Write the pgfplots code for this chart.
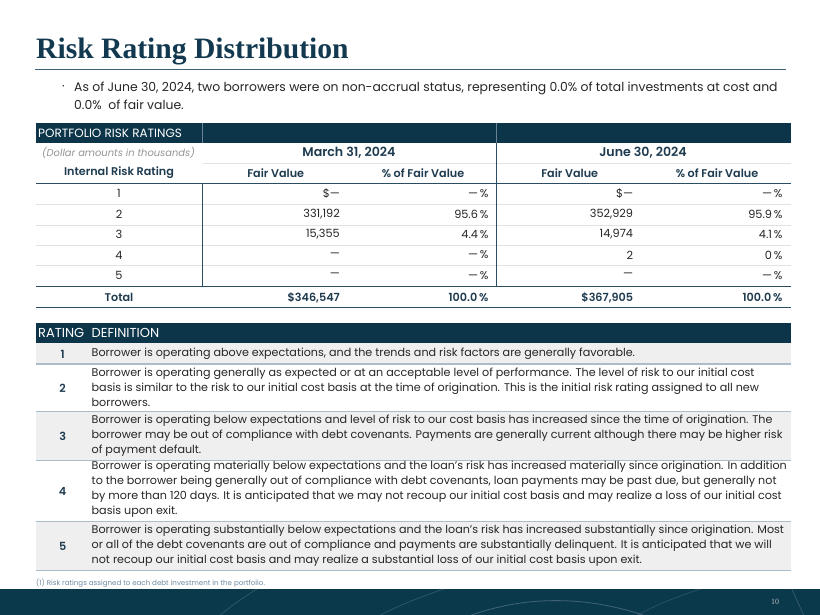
\documentclass[border=0pt]{standalone}
\usepackage{fontspec}
\setmainfont{Poppins}
\newfontfamily\titlefont{Liberation Serif}
\newfontfamily\semib{Poppins SemiBold}
\usepackage{pgfplots}
\usepackage{pgfplotstable}
\pgfplotsset{compat=1.18}
\definecolor{navy}{HTML}{0C3549}
\definecolor{titlec}{HTML}{12394F}
\definecolor{rulec}{HTML}{3A6078}
\definecolor{linec}{HTML}{2B4D63}
\definecolor{rowgrey}{HTML}{EFEFEF}
\definecolor{sepc}{HTML}{A9BDCB}
\definecolor{lightsep}{HTML}{E2E2E2}
\definecolor{headc}{HTML}{1E3B50}
\definecolor{bodyc}{HTML}{262626}
\definecolor{notec}{HTML}{6F8BA0}

\pgfplotstableread[col sep=semicolon]{
y;rating;mfv;mpct;jfv;jpct
193.3;1;\$—;—\,\%;\$—;—\,\%
214.3;2;331,192;95.6\,\%;352,929;95.9\,\%
234.3;3;15,355;4.4\,\%;14,974;4.1\,\%
255.0;4;—;—\,\%;2;0\,\%
275.7;5;—;—\,\%;—;—\,\%
}\ratings

\pgfplotstableread[col sep=semicolon]{
y;rating;mfv;mpct;jfv;jpct
297.7;Total;\$346,547;100.0\,\%;\$367,905;100.0\,\%
}\totals

\tikzset{deftext/.style={anchor=west, inner sep=0pt, align=left, text=bodyc, font=\fontsize{11.15}{15}\selectfont}}
\tikzset{valstyle/.style={inner sep=0pt, text=bodyc, font=\fontsize{11.3}{13}\selectfont}}
\tikzset{totstyle/.style={inner sep=0pt, text=headc, font=\semib\fontsize{11.2}{13}\selectfont}}
\tikzset{headstyle/.style={inner sep=0pt, text=headc, font=\semib\fontsize{11.2}{13}\selectfont}}

\begin{document}
\begin{tikzpicture}
\begin{axis}[
  width=820pt, height=615pt, scale only axis,
  xmin=0, xmax=820, ymin=0, ymax=615, y dir=reverse,
  hide axis, clip=false,
]
% background
\fill[white] (axis cs:0,0) rectangle (axis cs:820,615);

% title
\node[anchor=base west, inner sep=0pt, text=titlec, font=\titlefont\bfseries\fontsize{29.6}{32}\selectfont] at (axis cs:36,58.3) {Risk Rating Distribution};
\draw[rulec, line width=1.6pt] (axis cs:35,69.5) -- (axis cs:786,69.5);

% intro
\node[anchor=west, inner sep=0pt, text=bodyc, font=\fontsize{12.4}{14}\selectfont] at (axis cs:62,88) {·};
\node[anchor=west, inner sep=0pt, text=bodyc, font=\fontsize{12.4}{14}\selectfont] at (axis cs:74,88) {As of June 30, 2024, two borrowers were on non-accrual status, representing 0.0\% of total investments at cost and};
\node[anchor=west, inner sep=0pt, text=bodyc, font=\fontsize{12.4}{14}\selectfont] at (axis cs:74,105) {0.0\%~ of fair value.};

% ---------- portfolio table ----------
\fill[navy] (axis cs:36,123.3) rectangle (axis cs:791,142.7);
\draw[linec!70!white, line width=0.6pt] (axis cs:202.7,123.3) -- (axis cs:202.7,142.7);
\draw[linec!70!white, line width=0.6pt] (axis cs:496.7,123.3) -- (axis cs:496.7,142.7);
\node[anchor=west, inner sep=0pt, text=white, font=\fontsize{12}{13}\selectfont] at (axis cs:38,133.5) {PORTFOLIO RISK RATINGS};

\node[inner sep=0pt, text=gray!85, font=\itshape\fontsize{9.9}{11}\selectfont] at (axis cs:118.5,152.3) {(Dollar amounts in thousands)};
\node[inner sep=0pt, text=headc, font=\semib\fontsize{12.6}{14}\selectfont] at (axis cs:349,152.3) {March 31, 2024};
\node[inner sep=0pt, text=headc, font=\semib\fontsize{12.6}{14}\selectfont] at (axis cs:643,152.3) {June 30, 2024};
\draw[lightsep, line width=0.8pt] (axis cs:203,163.3) -- (axis cs:791,163.3);

\node[headstyle] at (axis cs:119,172.7) {Internal Risk Rating};
\node[headstyle] at (axis cs:275.7,172.7) {Fair Value};
\node[headstyle] at (axis cs:423,172.7) {\% of Fair Value};
\node[headstyle] at (axis cs:569.7,172.7) {Fair Value};
\node[headstyle] at (axis cs:717,172.7) {\% of Fair Value};

\draw[lightsep, line width=0.8pt] (axis cs:36,204.8) -- (axis cs:791,204.8);
\draw[lightsep, line width=0.8pt] (axis cs:36,225) -- (axis cs:791,225);
\draw[lightsep, line width=0.8pt] (axis cs:36,245.3) -- (axis cs:791,245.3);
\draw[lightsep, line width=0.8pt] (axis cs:36,265.7) -- (axis cs:791,265.7);
\draw[linec, line width=1.2pt] (axis cs:36,183.3) -- (axis cs:791,183.3);
\draw[linec, line width=1.2pt] (axis cs:36,286.7) -- (axis cs:791,286.7);
\draw[linec, line width=1.0pt] (axis cs:36,307.7) -- (axis cs:791,307.7);
\draw[linec, line width=1.0pt] (axis cs:202.7,183.3) -- (axis cs:202.7,286.7);
\draw[linec, line width=1.0pt] (axis cs:496.7,142.7) -- (axis cs:496.7,286.7);

% table values (from data tables)
\addplot[draw=none, mark=none, nodes near coords, point meta=explicit symbolic,
  every node near coord/.append style={valstyle, anchor=center}]
  table[x expr=119, y=y, meta=rating] {\ratings};
\addplot[draw=none, mark=none, nodes near coords, point meta=explicit symbolic,
  every node near coord/.append style={valstyle, anchor=east}]
  table[x expr=340, y=y, meta=mfv] {\ratings};
\addplot[draw=none, mark=none, nodes near coords, point meta=explicit symbolic,
  every node near coord/.append style={valstyle, anchor=east}]
  table[x expr=488.7, y=y, meta=mpct] {\ratings};
\addplot[draw=none, mark=none, nodes near coords, point meta=explicit symbolic,
  every node near coord/.append style={valstyle, anchor=east}]
  table[x expr=633.3, y=y, meta=jfv] {\ratings};
\addplot[draw=none, mark=none, nodes near coords, point meta=explicit symbolic,
  every node near coord/.append style={valstyle, anchor=east}]
  table[x expr=782.7, y=y, meta=jpct] {\ratings};

% totals
\addplot[draw=none, mark=none, nodes near coords, point meta=explicit symbolic,
  every node near coord/.append style={totstyle, anchor=center}]
  table[x expr=119, y=y, meta=rating] {\totals};
\addplot[draw=none, mark=none, nodes near coords, point meta=explicit symbolic,
  every node near coord/.append style={totstyle, anchor=east}]
  table[x expr=340, y=y, meta=mfv] {\totals};
\addplot[draw=none, mark=none, nodes near coords, point meta=explicit symbolic,
  every node near coord/.append style={totstyle, anchor=east}]
  table[x expr=488.7, y=y, meta=mpct] {\totals};
\addplot[draw=none, mark=none, nodes near coords, point meta=explicit symbolic,
  every node near coord/.append style={totstyle, anchor=east}]
  table[x expr=633.3, y=y, meta=jfv] {\totals};
\addplot[draw=none, mark=none, nodes near coords, point meta=explicit symbolic,
  every node near coord/.append style={totstyle, anchor=east}]
  table[x expr=782.7, y=y, meta=jpct] {\totals};

% ---------- definitions table ----------
\fill[navy] (axis cs:36,322.7) rectangle (axis cs:791,343);
\node[anchor=west, inner sep=0pt, text=white, font=\fontsize{13}{14}\selectfont] at (axis cs:38,333) {RATING};
\node[anchor=west, inner sep=0pt, text=white, font=\fontsize{13}{14}\selectfont] at (axis cs:91.5,333) {DEFINITION};
\fill[rowgrey] (axis cs:36,343) rectangle (axis cs:791,364);
\fill[rowgrey] (axis cs:36,411.7) rectangle (axis cs:791,460.7);
\fill[rowgrey] (axis cs:36,521.7) rectangle (axis cs:791,570.7);
\draw[sepc, line width=1.1pt] (axis cs:36,364) -- (axis cs:791,364);
\draw[sepc, line width=1.1pt] (axis cs:36,411.7) -- (axis cs:791,411.7);
\draw[sepc, line width=1.1pt] (axis cs:36,460.7) -- (axis cs:791,460.7);
\draw[sepc, line width=1.1pt] (axis cs:36,521.7) -- (axis cs:791,521.7);
\draw[sepc, line width=1.1pt] (axis cs:36,570.7) -- (axis cs:791,570.7);
\node[totstyle] at (axis cs:62.7,354) {1};
\node[totstyle] at (axis cs:62.7,388) {2};
\node[totstyle] at (axis cs:62.7,436) {3};
\node[totstyle] at (axis cs:62.7,491) {4};
\node[totstyle] at (axis cs:62.7,546) {5};
\node[deftext] at (axis cs:91.5,354) {Borrower is operating above expectations, and the trends and risk factors are generally favorable.};
\node[deftext] at (axis cs:91.5,387.5) {Borrower is operating generally as expected or at an acceptable level of performance. The level of risk to our initial cost\\basis is similar to the risk to our initial cost basis at the time of origination. This is the initial risk rating assigned to all new\\borrowers.};
\node[deftext] at (axis cs:91.5,435.5) {Borrower is operating below expectations and level of risk to our cost basis has increased since the time of origination. The\\borrower may be out of compliance with debt covenants. Payments are generally current although there may be higher risk\\of payment default.};
\node[deftext] at (axis cs:91.5,489.5) {Borrower is operating materially below expectations and the loan's risk has increased materially since origination. In addition\\to the borrower being generally out of compliance with debt covenants, loan payments may be past due, but generally not\\by more than 120 days. It is anticipated that we may not recoup our initial cost basis and may realize a loss of our initial cost\\basis upon exit.};
\node[deftext] at (axis cs:91.5,545.5) {Borrower is operating substantially below expectations and the loan's risk has increased substantially since origination. Most\\or all of the debt covenants are out of compliance and payments are substantially delinquent. It is anticipated that we will\\not recoup our initial cost basis and may realize a substantial loss of our initial cost basis upon exit.};

% footnote
\node[anchor=west, inner sep=0pt, text=notec, font=\fontsize{7.1}{8}\selectfont] at (axis cs:36,583.3) {(1) Risk ratings assigned to each debt investment in the portfolio.};

% footer band
\fill[navy!95!teal] (axis cs:0,589) rectangle (axis cs:820,615);
\begin{scope}
\clip (axis cs:0,589) rectangle (axis cs:820,615);
\draw[white, opacity=0.18, line width=0.6pt] (axis cs:195,640) .. controls (axis cs:230,600) and (axis cs:260,590) .. (axis cs:300,560);
\draw[white, opacity=0.18, line width=0.6pt] (axis cs:340,640) .. controls (axis cs:400,595) and (axis cs:470,585) .. (axis cs:520,560);
\draw[white, opacity=0.22, line width=0.8pt] (axis cs:420,640) .. controls (axis cs:500,590) and (axis cs:600,585) .. (axis cs:700,640);
\draw[white, opacity=0.15, line width=0.6pt] (axis cs:600,640) .. controls (axis cs:650,600) and (axis cs:700,590) .. (axis cs:760,570);
\draw[white, opacity=0.2, line width=0.6pt] (axis cs:790,585) -- (axis cs:815,640);
\end{scope}
\node[inner sep=0pt, text=gray!55, font=\titlefont\fontsize{8}{9}\selectfont] at (axis cs:775,601.5) {10};
\end{axis}
\end{tikzpicture}
\end{document}
